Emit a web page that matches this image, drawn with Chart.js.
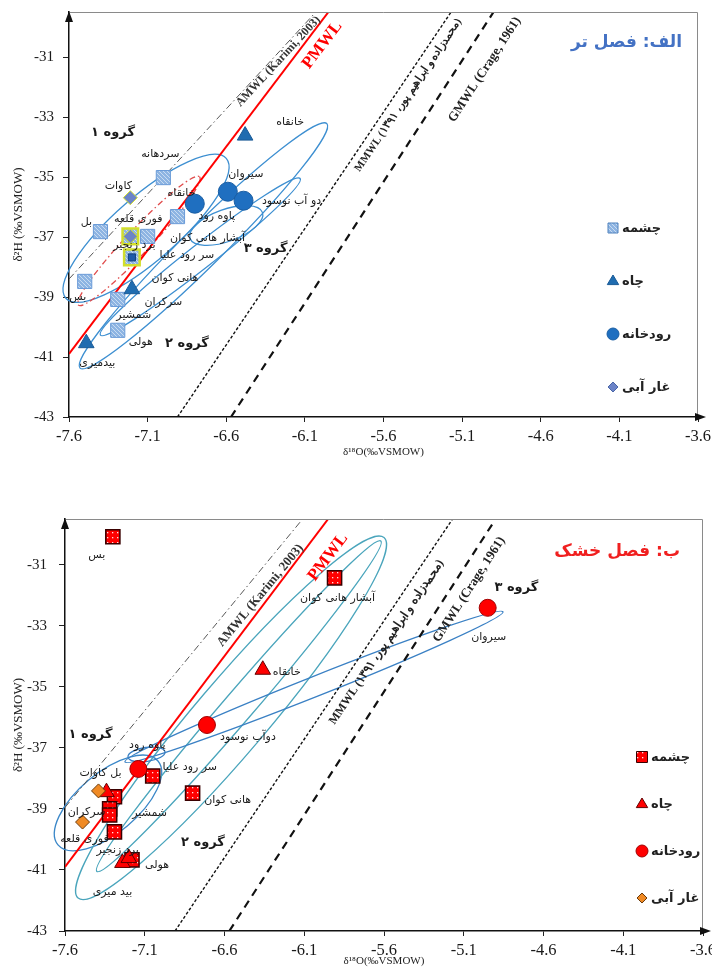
<!DOCTYPE html>
<html>
<head>
<meta charset="utf-8">
<script src="https://cdn.jsdelivr.net/npm/chart.js@4.4.1/dist/chart.umd.min.js"></script>
<style>
  body { margin: 0; background: #fff; width: 712px; height: 968px; overflow: hidden; position: relative; }
  .box { position: absolute; left: 0; width: 712px; }
  #wetBox { top: 0; height: 462px; }
  #dryBox { top: 490px; height: 478px; }
</style>
</head>
<body>
<div class="box" id="wetBox"><canvas id="wetChart"></canvas></div>
<div class="box" id="dryBox"><canvas id="dryChart"></canvas></div>
<script>
// axis ticks
const xTicks = [-7.6, -7.1, -6.6, -6.1, -5.6, -5.1, -4.6, -4.1, -3.6];
const yTicks = [-43, -41, -39, -37, -35, -33, -31];

// meteoric water lines (end points)
const pmwlX = [-7.6, -5.95];
const pmwlY = [-40.9, -29.5];
const mmwlX = [-6.91, -5.17];
const mmwlY = [-43, -29.5];
const gmwlX = [-6.57, -4.90];
const gmwlY = [-43, -29.5];
const wetAmwlX = [-7.6, -6.03];
const wetAmwlY = [-38.4, -29.5];
const dryAmwlX = [-7.6, -6.11];
const dryAmwlY = [-38.95, -29.5];

// الف: فصل تر
const wetSpringName = ['سردهانه', 'خانقاه', 'بل', 'آبشار هانی کوان', 'بس', 'شمشیر', 'هولی'];
const wetSpringX = [-7.00, -6.91, -7.40, -7.10, -7.50, -7.29, -7.29];
const wetSpringY = [-35.02, -36.32, -36.82, -36.98, -38.48, -39.08, -40.11];
const wetMarkedName = ['فوری قلعه', 'سر رود علیا'];
const wetMarkedX = [-7.21, -7.20];
const wetMarkedY = [-36.98, -37.68];
const wetWellName = ['خانقاه', 'هانی کوان', 'بیدمیری'];
const wetWellX = [-6.48, -7.20, -7.49];
const wetWellY = [-33.62, -38.74, -40.54];
const wetRiverName = ['پاوه رود', 'سیروان', 'دو آب نوسود'];
const wetRiverX = [-6.80, -6.59, -6.49];
const wetRiverY = [-35.89, -35.49, -35.79];
const wetCaveName = ['کاوات', 'برد زنجیر'];
const wetCaveX = [-7.21, -7.21];
const wetCaveY = [-35.69, -36.98];

// ب: فصل خشک
const drySpringName = ['بس', 'آبشار هانی کوان', 'سر رود علیا', 'هانی کوان', '', 'سرکران', 'شمشیر', 'فوری قلعه', 'هولی'];
const drySpringX = [-7.30, -5.91, -7.05, -6.80, -7.29, -7.32, -7.32, -7.29, -7.18];
const drySpringY = [-30.08, -31.43, -37.92, -38.48, -38.60, -39.00, -39.20, -39.75, -40.67];
const dryWellName = ['خانقاه', '', 'بید میری', ''];
const dryWellX = [-6.36, -7.34, -7.24, -7.20];
const dryWellY = [-34.44, -38.45, -40.77, -40.61];
const dryRiverName = ['سیروان', 'دوآب نوسود', 'پاوه رود'];
const dryRiverX = [-4.95, -6.71, -7.14];
const dryRiverY = [-32.41, -36.25, -37.69];
const dryCaveName = ['بل کاوات', ''];
const dryCaveX = [-7.39, -7.49];
const dryCaveY = [-38.41, -39.43];

const SERIF = "'Liberation Serif', 'DejaVu Serif', serif";
const FA = "'DejaVu Sans', sans-serif";

function pts(xs, ys) {
  return xs.map((x, i) => ({ x: x, y: ys[i] }));
}

function makePattern(base, fg, kind) {
  const c = document.createElement('canvas');
  const n = kind === 'dots' ? 5 : 4;
  c.width = c.height = n;
  const g = c.getContext('2d');
  g.fillStyle = base;
  g.fillRect(0, 0, n, n);
  g.fillStyle = fg;
  if (kind === 'dots') {
    g.fillRect(2, 2, 1.3, 1.3);
  } else {
    for (let i = 0; i < n; i++) g.fillRect(i, i, 1, 1);
  }
  return g.createPattern(c, 'repeat');
}

const bluePattern = makePattern('#8DB4E2', '#C9DCF2', 'hatch');
const redPattern = makePattern('#FF0000', '#FFE0E0', 'dots');

function lineSet(xs, ys, color, width, dash) {
  return { data: pts(xs, ys), showLine: true, pointRadius: 0, borderColor: color,
    borderWidth: width, borderDash: dash, fill: false, order: 10 };
}

function markSet(xs, ys, names, offs, style) {
  return Object.assign({ data: pts(xs, ys), names: names, offs: offs, showLine: false }, style);
}

function drawMarker(ctx, kind, x, y, r) {
  ctx.beginPath();
  if (kind === 'rect') ctx.rect(x - r, y - r, 2 * r, 2 * r);
  else if (kind === 'circle') ctx.arc(x, y, r, 0, Math.PI * 2);
  else if (kind === 'triangle') {
    ctx.moveTo(x, y - r);
    ctx.lineTo(x + r * 0.95, y + r * 0.6);
    ctx.lineTo(x - r * 0.95, y + r * 0.6);
    ctx.closePath();
  } else {
    ctx.moveTo(x, y - r); ctx.lineTo(x + r, y); ctx.lineTo(x, y + r); ctx.lineTo(x - r, y);
    ctx.closePath();
  }
  ctx.fill();
  ctx.stroke();
}

// draws ellipses, labels, legend, box and arrows
function overlay(cfg) {
  return {
    id: 'overlay',
    beforeDatasetsDraw(chart) {
      const { ctx, scales: { x, y } } = chart;
      ctx.save();
      cfg.ellipses.forEach(e => {
        const x1 = x.getPixelForValue(e.from[0]), y1 = y.getPixelForValue(e.from[1]);
        const x2 = x.getPixelForValue(e.to[0]), y2 = y.getPixelForValue(e.to[1]);
        ctx.beginPath();
        ctx.ellipse((x1 + x2) / 2, (y1 + y2) / 2, Math.hypot(x2 - x1, y2 - y1) / 2, e.half,
          Math.atan2(y2 - y1, x2 - x1), 0, Math.PI * 2);
        ctx.strokeStyle = e.color;
        ctx.lineWidth = e.width || 1.3;
        ctx.setLineDash(e.dash || []);
        ctx.stroke();
      });
      ctx.restore();
    },
    afterDatasetsDraw(chart) {
      const { ctx, scales: { x, y } } = chart;
      ctx.save();
      // labels along the water lines
      cfg.lineLabels.forEach(l => {
        const d = chart.data.datasets[l.line].data;
        const x1 = x.getPixelForValue(d[0].x), y1 = y.getPixelForValue(d[0].y);
        const x2 = x.getPixelForValue(d[1].x), y2 = y.getPixelForValue(d[1].y);
        const len = Math.hypot(x2 - x1, y2 - y1);
        const ux = (x2 - x1) / len, uy = (y2 - y1) / len;
        const cx = x1 + l.t * (x2 - x1) - uy * l.d;
        const cy = y1 + l.t * (y2 - y1) + ux * l.d;
        ctx.save();
        ctx.translate(cx, cy);
        ctx.rotate(Math.atan2(uy, ux));
        ctx.font = l.font;
        ctx.fillStyle = l.color;
        ctx.direction = 'ltr';
        ctx.textAlign = 'center';
        ctx.textBaseline = 'middle';
        ctx.fillText(l.text, 0, 0);
        ctx.restore();
      });
      // sample names
      ctx.direction = 'rtl';
      ctx.textAlign = 'center';
      ctx.textBaseline = 'middle';
      ctx.fillStyle = '#1a1a1a';
      ctx.font = cfg.nameFont;
      chart.data.datasets.forEach((ds, di) => {
        if (!ds.names) return;
        const meta = chart.getDatasetMeta(di);
        ds.names.forEach((n, i) => {
          if (!n) return;
          const el = meta.data[i];
          const o = ds.offs[i];
          ctx.fillText(n, el.x + o[0], el.y + o[1]);
        });
      });
      cfg.freeLabels.forEach(f => {
        ctx.font = f.font || cfg.nameFont;
        ctx.fillText(f.text, x.getPixelForValue(f.at[0]), y.getPixelForValue(f.at[1]));
      });
      ctx.restore();
    },
    afterDraw(chart) {
      const { ctx, chartArea: a } = chart;
      ctx.save();
      ctx.strokeStyle = '#8a8a8a';
      ctx.lineWidth = 1;
      ctx.beginPath();
      ctx.moveTo(a.left, a.top + 0.5);
      ctx.lineTo(a.right - 0.5, a.top + 0.5);
      ctx.lineTo(a.right - 0.5, a.bottom);
      ctx.stroke();
      ctx.fillStyle = '#111';
      ctx.beginPath();
      ctx.moveTo(a.left, a.top - 1);
      ctx.lineTo(a.left - 4, a.top + 10);
      ctx.lineTo(a.left + 4, a.top + 10);
      ctx.fill();
      ctx.beginPath();
      ctx.moveTo(a.right + 8, a.bottom);
      ctx.lineTo(a.right - 3, a.bottom - 4);
      ctx.lineTo(a.right - 3, a.bottom + 4);
      ctx.fill();
      // legend
      ctx.font = 'bold 13px ' + FA;
      ctx.textBaseline = 'middle';
      cfg.legend.items.forEach((it, i) => {
        const lx = a.right - cfg.legend.right;
        const ly = a.top + cfg.legend.top + i * cfg.legend.step;
        ctx.fillStyle = it.fill;
        ctx.strokeStyle = it.stroke;
        ctx.lineWidth = 1;
        drawMarker(ctx, it.kind, lx, ly, it.r);
        ctx.fillStyle = '#222';
        ctx.direction = 'rtl';
        ctx.textAlign = 'left';
        ctx.fillText(it.text, lx + 9, ly + 1);
      });
      // panel title
      ctx.font = 'bold 17px ' + FA;
      ctx.fillStyle = cfg.title.color;
      ctx.direction = 'rtl';
      ctx.textAlign = 'right';
      ctx.fillText(cfg.title.text, a.right - cfg.title.right, a.top + cfg.title.top);
      ctx.restore();
    }
  };
}

function scales(yWidth, xHeight, yPad, xTitlePad) {
  return {
    x: {
      type: 'linear', min: -7.6, max: -3.6,
      afterBuildTicks: s => { s.ticks = xTicks.map(v => ({ value: v })); },
      afterFit: s => { s.height = xHeight; s.paddingLeft = 0; s.paddingRight = 0; },
      ticks: { callback: v => v.toFixed(1), color: '#1a1a1a', font: { family: SERIF, size: 16.5 },
        padding: 5, maxRotation: 0, autoSkip: false },
      grid: { drawOnChartArea: false, tickLength: 5, color: '#222' },
      border: { color: '#111', width: 1.5 },
      title: { display: true, text: 'δ¹⁸O(‰VSMOW)', color: '#222', font: { family: SERIF, size: 11 },
        padding: { top: 0, bottom: xTitlePad } }
    },
    y: {
      type: 'linear', min: -43, max: -29.5,
      afterBuildTicks: s => { s.ticks = yTicks.map(v => ({ value: v })); },
      afterFit: s => { s.width = yWidth; s.paddingTop = 0; s.paddingBottom = 0; },
      ticks: { color: '#1a1a1a', font: { family: SERIF, size: 15 }, padding: yPad, autoSkip: false },
      grid: { drawOnChartArea: false, tickLength: 6, color: '#222' },
      border: { color: '#111', width: 1.5 },
      title: { display: true, text: 'δ²H (‰VSMOW)', color: '#222', font: { family: SERIF, size: 13 },
        padding: { top: 11, bottom: 0 } }
    }
  };
}

function baseOptions(pad, sc) {
  return {
    responsive: true, maintainAspectRatio: false, animation: false, events: [],
    layout: { padding: pad, autoPadding: false },
    plugins: { legend: { display: false }, tooltip: { enabled: false } },
    scales: sc
  };
}

// chart الف: wet season
new Chart(document.getElementById('wetChart'), {
  type: 'scatter',
  data: {
    datasets: [
      lineSet(pmwlX, pmwlY, '#FF0000', 2, []),
      lineSet(wetAmwlX, wetAmwlY, '#555', 1, [7, 3, 1.5, 3]),
      lineSet(mmwlX, mmwlY, '#111', 1.4, [3, 2]),
      lineSet(gmwlX, gmwlY, '#111', 2.2, [8, 6]),
      markSet(wetSpringX, wetSpringY, wetSpringName,
        [[-3, -23], [4, -23], [-14, -9], [60, 2], [-7, 16], [16, 16], [23, 12]],
        { pointStyle: 'rect', pointRadius: 10, backgroundColor: bluePattern, borderColor: '#6A9BD8', borderWidth: 1, order: 4 }),
      markSet(wetMarkedX, wetMarkedY, wetMarkedName, [[8, -17], [55, -2]],
        { pointStyle: 'rect', pointRadius: 11, backgroundColor: bluePattern, borderColor: '#D2DE2C', borderWidth: 2.5, order: 3 }),
      markSet([wetMarkedX[1]], [wetMarkedY[1]], null, null,
        { pointStyle: 'rect', pointRadius: 5, backgroundColor: '#1E5AA8', borderColor: '#103F7C', borderWidth: 1, order: 0 }),
      markSet(wetWellX, wetWellY, wetWellName, [[45, -13], [43, -11], [11, 20]],
        { pointStyle: 'triangle', pointRadius: 9, backgroundColor: '#1F6CB0', borderColor: '#1A5A96', borderWidth: 1, order: 2 }),
      markSet(wetRiverX, wetRiverY, wetRiverName, [[22, 12], [18, -18], [48, 0]],
        { pointStyle: 'circle', pointRadius: 9.5, backgroundColor: '#1F6FC0', borderColor: '#1A5EA3', borderWidth: 1, order: 2 }),
      markSet(wetCaveX, wetCaveY, wetCaveName, [[-12, -12], [4, 9]],
        { pointStyle: 'rectRot', pointRadius: 7, backgroundColor: '#6C84C8', borderColor: '#D2DE2C', borderWidth: 1, order: 1 })
    ]
  },
  options: baseOptions({ top: 12, right: 14, left: 0, bottom: 0 }, scales(69, 45, 9, 3)),
  plugins: [overlay({
    nameFont: '11px ' + FA,
    ellipses: [
      { from: [-7.62, -39.04], to: [-6.60, -34.38], half: 32, color: '#3D8FD1' },
      { from: [-7.54, -39.27], to: [-6.77, -34.99], half: 12, color: '#E04B4B', dash: [6, 3, 1.5, 3] },
      { from: [-7.53, -41.37], to: [-5.96, -33.22], half: 20, color: '#3D8FD1' },
      { from: [-7.40, -40.27], to: [-6.13, -35.05], half: 12, color: '#3D8FD1' },
      { from: [-6.83, -37.05], to: [-6.37, -36.18], half: 16, color: '#3D8FD1' }
    ],
    lineLabels: [
      { line: 0, t: 0.93, d: 15, text: 'PMWL', font: 'bold 17px ' + SERIF, color: '#FF0000' },
      { line: 1, t: 0.83, d: 6, text: 'AMWL (Karimi, 2003)', font: 'bold 12px ' + SERIF, color: '#333' },
      { line: 2, t: 0.81, d: 11, text: 'MMWL (محمدزاده و ابراهیم پور، ۱۳۹۱)', font: 'bold 11px ' + SERIF, color: '#222' },
      { line: 3, t: 0.89, d: 24, text: 'GMWL (Crage, 1961)', font: 'bold 13px ' + SERIF, color: '#222' }
    ],
    freeLabels: [
      { text: 'سرکران', at: [-7.0, -39.18] },
      { text: 'گروه ۱', at: [-7.32, -33.53], font: 'bold 13px ' + FA },
      { text: 'گروه ۲', at: [-6.85, -40.54], font: 'bold 13px ' + FA },
      { text: 'گروه ۳', at: [-6.35, -37.38], font: 'bold 13px ' + FA }
    ],
    legend: { right: 85, top: 216, step: 53, items: [
      { kind: 'rect', r: 5, fill: bluePattern, stroke: '#4F81BD', text: 'چشمه' },
      { kind: 'triangle', r: 6, fill: '#1F6CB0', stroke: '#1A5A96', text: 'چاه' },
      { kind: 'circle', r: 6, fill: '#1F6FC0', stroke: '#1A5EA3', text: 'رودخانه' },
      { kind: 'rectRot', r: 5, fill: '#6C84C8', stroke: '#4A66A8', text: 'غار آبی' }
    ] },
    title: { text: 'الف: فصل تر', color: '#4472C4', right: 16, top: 31 }
  })]
});

// chart ب: dry season
new Chart(document.getElementById('dryChart'), {
  type: 'scatter',
  data: {
    datasets: [
      lineSet(pmwlX, pmwlY, '#FF0000', 2, []),
      lineSet(dryAmwlX, dryAmwlY, '#555', 1, [7, 3, 1.5, 3]),
      lineSet(mmwlX, mmwlY, '#111', 1.4, [3, 2]),
      lineSet(gmwlX, gmwlY, '#111', 2.2, [8, 6]),
      markSet(drySpringX, drySpringY, drySpringName,
        [[-16, 18], [3, 20], [37, -9], [35, 7], [0, 0], [-23, 3], [40, -2], [-30, 7], [25, 5]],
        { pointStyle: 'rect', pointRadius: 10, backgroundColor: redPattern, borderColor: '#3A0000', borderWidth: 1.5, order: 4 }),
      markSet(dryWellX, dryWellY, dryWellName, [[24, 2], [0, 0], [-10, 29], [0, 0]],
        { pointStyle: 'triangle', pointRadius: 9, backgroundColor: '#FF0000', borderColor: '#600000', borderWidth: 1, order: 2 }),
      markSet(dryRiverX, dryRiverY, dryRiverName, [[1, 29], [41, 12], [9, -24]],
        { pointStyle: 'circle', pointRadius: 8.5, backgroundColor: '#FF0000', borderColor: '#A00000', borderWidth: 1, order: 2 }),
      markSet(dryCaveX, dryCaveY, dryCaveName, [[2, -18], [0, 0]],
        { pointStyle: 'rectRot', pointRadius: 7, backgroundColor: '#F08A24', borderColor: '#6B3A0A', borderWidth: 1, order: 1 })
    ]
  },
  options: baseOptions({ top: 29, right: 9, left: 0, bottom: 0 }, scales(65, 37, 12, 0)),
  plugins: [overlay({
    nameFont: '11px ' + FA,
    ellipses: [
      { from: [-7.644, -40.18], to: [-7.017, -37.43], half: 30, color: '#3A87C8' },
      { from: [-7.518, -41.92], to: [-5.60, -30.11], half: 36, color: '#4AA5BC' },
      { from: [-7.40, -41.05], to: [-5.62, -30.22], half: 15, color: '#4AA5BC' },
      { from: [-7.224, -37.46], to: [-4.854, -32.54], half: 10, color: '#3A80C4' },
      { from: [-7.205, -37.30], to: [-6.973, -37.13], half: 7, color: '#3A80C4' }
    ],
    lineLabels: [
      { line: 0, t: 0.93, d: 23, text: 'PMWL', font: 'bold 17px ' + SERIF, color: '#FF0000' },
      { line: 1, t: 0.77, d: 16, text: 'AMWL (Karimi, 2003)', font: 'bold 13px ' + SERIF, color: '#333' },
      { line: 2, t: 0.72, d: 14, text: 'MMWL (محمدزاده و ابراهیم پور، ۱۳۹۱)', font: 'bold 12px ' + SERIF, color: '#222' },
      { line: 3, t: 0.85, d: 16, text: 'GMWL (Crage, 1961)', font: 'bold 13px ' + SERIF, color: '#222' }
    ],
    freeLabels: [
      { text: 'برد زنجیر', at: [-7.27, -40.34] },
      { text: 'گروه ۱', at: [-7.44, -36.57], font: 'bold 13px ' + FA },
      { text: 'گروه ۲', at: [-6.735, -40.11], font: 'bold 13px ' + FA },
      { text: 'گروه ۳', at: [-4.77, -31.75], font: 'bold 13px ' + FA }
    ],
    legend: { right: 61, top: 238, step: 47, items: [
      { kind: 'rect', r: 5.5, fill: redPattern, stroke: '#3A0000', text: 'چشمه' },
      { kind: 'triangle', r: 6, fill: '#FF0000', stroke: '#600000', text: 'چاه' },
      { kind: 'circle', r: 6, fill: '#FF0000', stroke: '#A00000', text: 'رودخانه' },
      { kind: 'rectRot', r: 5, fill: '#F08A24', stroke: '#6B3A0A', text: 'غار آبی' }
    ] },
    title: { text: 'ب: فصل خشک', color: '#F02020', right: 23, top: 33 }
  })]
});
</script>
</body>
</html>
